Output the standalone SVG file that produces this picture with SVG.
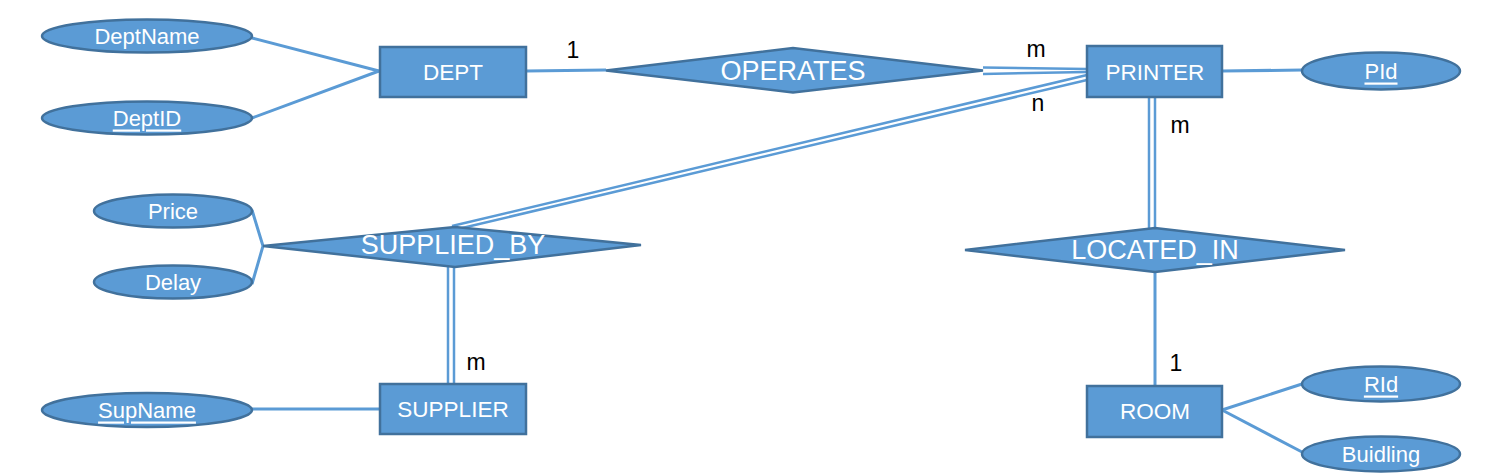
<svg xmlns="http://www.w3.org/2000/svg" width="1493" height="474" viewBox="0 0 1493 474">
<style>
.shape{fill:#5B9BD5;stroke:#41719C;stroke-width:2.5}
.conn{stroke:#5B9BD5;stroke-width:3;fill:none}
.dbl{stroke:#5B9BD5;stroke-width:2.5;fill:none}
.t{font-family:"Liberation Sans",Arial,sans-serif;fill:#fff;text-anchor:middle;dominant-baseline:central}
.ent{font-size:22.5px}
.att{font-size:22px}
.rel{font-size:27px}
.key{text-decoration:underline}
.lbl{font-family:"Liberation Sans",Arial,sans-serif;font-size:23px;fill:#000;text-anchor:middle;dominant-baseline:central}
</style>
<rect width="1493" height="474" fill="#fff"/>
<g id="connectors">
<line class="conn" x1="252" y1="38" x2="379" y2="71"/>
<line class="conn" x1="252" y1="118" x2="379" y2="71"/>
<line class="conn" x1="526" y1="71" x2="606" y2="70"/>
<line class="dbl" x1="983" y1="67.5" x2="1087" y2="69"/>
<line class="dbl" x1="983" y1="74" x2="1087" y2="72"/>
<line class="dbl" x1="1087" y1="75" x2="452" y2="226"/>
<line class="dbl" x1="1087" y1="80" x2="458" y2="229"/>
<line class="conn" x1="1222" y1="71" x2="1302" y2="70"/>
<line class="dbl" x1="1149" y1="97" x2="1149" y2="229"/>
<line class="dbl" x1="1155" y1="97" x2="1155" y2="229"/>
<line class="conn" x1="1155" y1="272" x2="1155" y2="386"/>
<line class="conn" x1="1222" y1="410" x2="1302" y2="384"/>
<line class="conn" x1="1222" y1="410" x2="1302" y2="452"/>
<polyline class="conn" points="252,210 263,246 252,284"/>
<line class="dbl" x1="448" y1="266" x2="448" y2="384"/>
<line class="dbl" x1="454" y1="266" x2="454" y2="384"/>
<line class="conn" x1="252" y1="409" x2="380" y2="409"/>
</g>
<g id="DeptName"><ellipse class="shape" cx="147" cy="36" rx="105" ry="16.5"/><text class="t att" x="147" y="36">DeptName</text></g>
<g id="DeptID"><ellipse class="shape" cx="147" cy="118" rx="105" ry="16.5"/><text class="t att key" x="147" y="118">DeptID</text></g>
<g id="DEPT"><rect class="shape" x="380" y="47" width="146" height="50"/><text class="t ent" x="453" y="72">DEPT</text></g>
<g id="OPERATES"><polygon class="shape" points="606,70.5 793,48 983,70.5 793,92.5"/><text class="t rel" x="793" y="71">OPERATES</text></g>
<g id="PRINTER"><rect class="shape" x="1087" y="46" width="135" height="51"/><text class="t ent" x="1155" y="72">PRINTER</text></g>
<g id="PId"><ellipse class="shape" cx="1381" cy="71" rx="79" ry="18.5"/><text class="t att key" x="1381" y="71">PId</text></g>
<g id="LOCATED_IN"><polygon class="shape" points="965,250 1155,228 1345,250 1155,272"/><text class="t rel" x="1155" y="250">LOCATED_IN</text></g>
<g id="ROOM"><rect class="shape" x="1087" y="386" width="135" height="51"/><text class="t ent" x="1155" y="411">ROOM</text></g>
<g id="RId"><ellipse class="shape" cx="1381" cy="384" rx="79" ry="17.5"/><text class="t att key" x="1381" y="384">RId</text></g>
<g id="Buidling"><ellipse class="shape" cx="1381" cy="454" rx="79" ry="17.5"/><text class="t att" x="1381" y="454">Buidling</text></g>
<g id="Price"><ellipse class="shape" cx="173" cy="211" rx="79" ry="16.5"/><text class="t att" x="173" y="211">Price</text></g>
<g id="Delay"><ellipse class="shape" cx="173" cy="282" rx="79" ry="16.5"/><text class="t att" x="173" y="282">Delay</text></g>
<g id="SUPPLIED_BY"><polygon class="shape" points="263,246 455,227 641,245 455,267"/><text class="t rel" x="453" y="245">SUPPLIED_BY</text></g>
<g id="SUPPLIER"><rect class="shape" x="380" y="384" width="146" height="50"/><text class="t ent" x="453" y="409">SUPPLIER</text></g>
<g id="SupName"><ellipse class="shape" cx="147" cy="410" rx="105" ry="17"/><text class="t att key" x="147" y="410">SupName</text></g>
<g id="labels">
<text class="lbl" x="573" y="50">1</text>
<text class="lbl" x="1036" y="49">m</text>
<text class="lbl" x="1038" y="103">n</text>
<text class="lbl" x="1180" y="125">m</text>
<text class="lbl" x="476" y="362">m</text>
<text class="lbl" x="1176" y="363">1</text>
</g>
</svg>
